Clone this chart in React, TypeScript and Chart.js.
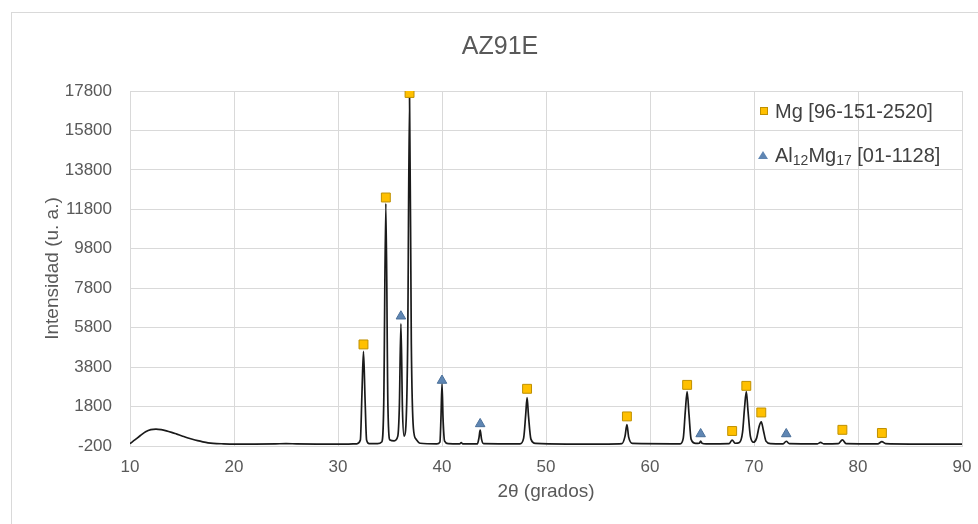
import React, { useEffect, useRef } from "react";
import { Chart, registerables } from "chart.js";

Chart.register(...registerables);

// ---- DATA ----
const thetaValues: number[] = [
  10.0, 10.5, 11.0, 11.5, 12.0, 12.5, 13.0, 13.5, 14.0, 14.5, 15.0, 15.5, 16.0, 16.5, 17.0, 17.5, 18.0, 19.0, 20.0,
  22.0, 24.0, 25.0, 26.0, 28.0, 30.0, 31.0, 31.8, 32.15, 32.3, 32.45, 32.6, 32.75, 33.0, 33.8, 34.2, 34.4, 34.6,
  34.8, 35.0, 35.4, 35.75, 35.9, 36.05, 36.2, 36.35, 36.5, 36.7, 36.88, 37.05, 37.25, 37.5, 37.9, 39.5, 39.8, 39.9,
  40.0, 40.1, 40.25, 40.6, 41.7, 41.85, 42.0, 43.4, 43.55, 43.67, 43.8, 44.0, 47.5, 47.85, 48.05, 48.18, 48.32,
  48.55, 49.0, 52.0, 56.0, 57.3, 57.6, 57.78, 57.95, 58.3, 62.9, 63.2, 63.4, 63.57, 63.75, 63.95, 64.4, 64.75,
  64.87, 65.0, 65.4, 67.6, 67.9, 68.2, 68.6, 68.9, 69.1, 69.26, 69.42, 69.65, 69.95, 70.25, 70.5, 70.7, 70.9,
  71.15, 71.6, 72.8, 73.1, 73.4, 76.1, 76.4, 76.7, 78.1, 78.5, 78.85, 81.9, 82.3, 82.65, 85.0, 88.0, 90.0,
];
const intensityValues: number[] = [
  -80, 120, 330, 520, 630, 660, 630, 570, 490, 400, 310, 220, 140, 70, 10, -40, -70, -90, -100,
  -100, -90, -80, -90, -100, -100, -100, -90, 100, 2400, 4600, 2200, 100, -80, -80, 0, 2000, 12100,
  1800, 100, 60, 300, 1800, 6000, 1600, 300, 600, 5000, 17450, 5000, 700, 150, -60, -90, 0, 1200,
  2950, 1200, 50, -80, -90, -30, -90, -90, 200, 600, 150, -80, -90, 200, 1400, 2250, 1300,
  150, -70, -100, -100, -80, 300, 880, 250, -70, -90, 200, 1600, 2560, 1400, 150, -70, -60,
  50, -60, -90, -80, 100, -60, -20, 500, 1800, 2560, 1600, 300, -10, 200, 800, 1020, 600,
  50, -80, -90, 40, -80, -90, -20, -90, -80, 110, -80, -90, 20, -80, -100, -100, -110,
];

const mgTheta: number[] = [32.45, 34.6, 36.88, 48.18, 57.78, 63.57, 67.9, 69.26, 70.7, 78.5, 82.3];
const mgMarker: number[] = [4950, 12400, 17700, 2700, 1300, 2900, 560, 2850, 1500, 620, 460];

const alTheta: number[] = [36.05, 40.0, 43.67, 64.87, 73.1];
const alMarker: number[] = [6380, 3120, 920, 410, 410];

const yTickValues: number[] = [-200, 1800, 3800, 5800, 7800, 9800, 11800, 13800, 15800, 17800];
const xMin = 10;
const xMax = 90;
const xStep = 10;

const chartTitle = "AZ91E";
const xTitle = "2θ (grados)";
const yTitle = "Intensidad (u. a.)";
const mgLabel = "Mg [96-151-2520]";

const FONT = "'Liberation Sans', Arial, sans-serif";
const TEXT = "#595959";
const GRID = "#d9d9d9";
const MG_FILL = "#FFC000";
const MG_BORDER = "#BF9000";
const AL_FILL = "#5F86B3";
const AL_BORDER = "#4A6F99";

export default function App() {
  const canvasRef = useRef<HTMLCanvasElement | null>(null);

  useEffect(() => {
    const canvas = canvasRef.current;
    if (!canvas) return;
    const chart = new Chart(canvas, {
      type: "scatter",
      data: {
        datasets: [
          {
            label: "pattern",
            data: thetaValues.map((x, i) => ({ x, y: intensityValues[i] })),
            showLine: true,
            borderColor: "#1a1a1a",
            borderWidth: 1.7,
            pointRadius: 0,
            cubicInterpolationMode: "monotone",
            order: 2,
          } as any,
          {
            label: mgLabel,
            data: mgTheta.map((x, i) => ({ x, y: mgMarker[i] })),
            showLine: false,
            pointStyle: "rect",
            pointRadius: 6.3,
            backgroundColor: MG_FILL,
            borderColor: MG_BORDER,
            borderWidth: 1,
            order: 0,
          } as any,
          {
            label: "Al12Mg17 [01-1128]",
            data: alTheta.map((x, i) => ({ x, y: alMarker[i] })),
            showLine: false,
            pointStyle: "triangle",
            pointRadius: 5.5,
            backgroundColor: AL_FILL,
            borderColor: AL_BORDER,
            borderWidth: 1,
            order: 0,
          } as any,
        ],
      },
      options: {
        animation: false,
        responsive: false,
        maintainAspectRatio: false,
        layout: { padding: { left: 38, right: 16, top: 0, bottom: 0 } },
        plugins: {
          legend: { display: false },
          tooltip: { enabled: false },
          title: {
            display: true,
            text: chartTitle,
            color: TEXT,
            font: { family: FONT, size: 25, weight: "normal" },
            padding: { top: 32, bottom: 29 },
          },
        },
        scales: {
          x: {
            type: "linear",
            min: xMin,
            max: xMax,
            ticks: { stepSize: xStep, color: TEXT, font: { family: FONT, size: 17 }, padding: 11 },
            grid: { color: GRID, drawTicks: false },
            border: { color: GRID },
            title: {
              display: true,
              text: xTitle,
              color: TEXT,
              font: { family: FONT, size: 19 },
              padding: { top: 0, bottom: 20.6 },
            },
            afterFit: (s: any) => {
              s.height = 78;
              s.paddingLeft = 0;
              s.paddingRight = 0;
            },
          },
          y: {
            type: "linear",
            min: -200,
            max: 17800,
            afterBuildTicks: (s: any) => {
              s.ticks = yTickValues.map((v) => ({ value: v }));
            },
            ticks: {
              color: TEXT,
              font: { family: FONT, size: 17 },
              padding: 18,
              callback: (v: any) => String(v),
            },
            grid: { color: GRID, drawTicks: false },
            border: { color: GRID },
            title: {
              display: true,
              text: yTitle,
              color: TEXT,
              font: { family: FONT, size: 19 },
              padding: { top: 3.6, bottom: 0 },
            },
            afterFit: (s: any) => {
              s.width = 92;
            },
          },
        },
      } as any,
    });
    return () => chart.destroy();
  }, []);

  const sub = { fontSize: 14, verticalAlign: "-3px", lineHeight: 0 } as const;

  return (
    <div style={{ position: "absolute", left: 0, top: 0, width: 978, height: 524, background: "#fff", overflow: "hidden" }}>
      <div
        style={{
          position: "absolute",
          left: 11,
          top: 12,
          width: 967,
          height: 512,
          borderLeft: `1px solid ${GRID}`,
          borderTop: `1px solid ${GRID}`,
          boxSizing: "border-box",
        }}
      />
      <canvas ref={canvasRef} width={978} height={524} style={{ position: "absolute", left: 0, top: 0, width: 978, height: 524 }} />
      <div style={{ position: "absolute", left: 760, top: 107, width: 6, height: 6, background: MG_FILL, border: `1px solid ${MG_BORDER}` }} />
      <div
        style={{ position: "absolute", left: 775, top: 99, height: 24, lineHeight: "24px", fontFamily: FONT, fontSize: 20, color: "#404040", whiteSpace: "nowrap" }}
      >
        {mgLabel}
      </div>
      <div
        style={{
          position: "absolute",
          left: 758,
          top: 151,
          width: 0,
          height: 0,
          borderLeft: "5px solid transparent",
          borderRight: "5px solid transparent",
          borderBottom: `8px solid ${AL_FILL}`,
        }}
      />
      <div
        style={{ position: "absolute", left: 775, top: 143, height: 24, lineHeight: "24px", fontFamily: FONT, fontSize: 20, color: "#404040", whiteSpace: "nowrap" }}
      >
        Al<sub style={sub}>12</sub>Mg<sub style={sub}>17</sub> [01-1128]
      </div>
    </div>
  );
}
